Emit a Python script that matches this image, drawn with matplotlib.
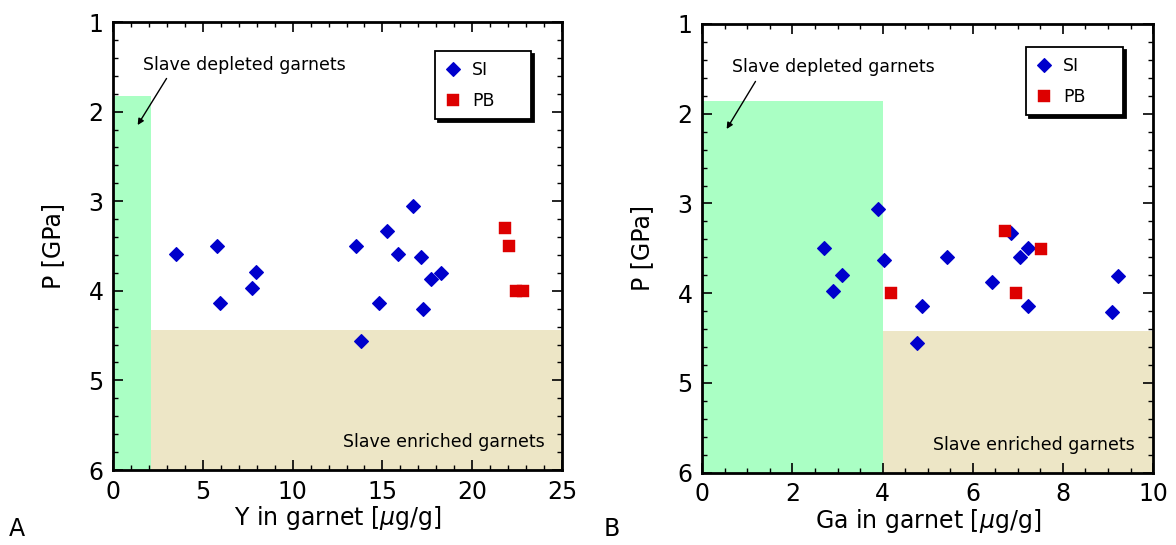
import matplotlib
matplotlib.use("Agg")
import matplotlib.pyplot as plt
from matplotlib.patches import Rectangle
from matplotlib.ticker import MultipleLocator

# Panel A: Y in garnet
y_si = [3.51, 5.79, 5.94, 7.96, 7.74, 13.51, 13.79, 14.83, 15.24, 15.87, 16.69, 17.17, 17.24, 17.72, 18.28]
y_si_p = [3.59, 3.50, 4.14, 3.79, 3.97, 3.50, 4.56, 4.14, 3.33, 3.59, 3.05, 3.62, 4.20, 3.87, 3.80]
y_pb = [21.83, 22.05, 22.44, 22.84]
y_pb_p = [3.30, 3.50, 4.00, 4.00]

# Panel B: Ga in garnet
ga_si = [2.69, 3.90, 3.09, 2.89, 4.04, 4.88, 4.77, 5.43, 6.43, 6.85, 7.04, 7.23, 7.23, 9.09, 9.22]
ga_si_p = [3.50, 3.06, 3.80, 3.98, 3.63, 4.14, 4.56, 3.60, 3.88, 3.33, 3.60, 3.50, 4.14, 4.21, 3.81]
ga_pb = [6.71, 7.52, 4.19, 6.96]
ga_pb_p = [3.31, 3.51, 4.00, 4.00]

GREEN = "#AAFFC4"
TAN = "#EDE6C6"
BLUE = "#0000CC"
RED = "#DD0000"

plt.rcParams['font.family'] = ['DejaVu Sans']
plt.rcParams['mathtext.fontset'] = 'dejavusans'

fig = plt.figure(figsize=(11.76, 5.45), dpi=100)
ax1 = fig.add_axes([0.0963, 0.1376, 0.3815, 0.822])
ax2 = fig.add_axes([0.5972, 0.1327, 0.3833, 0.8233])


def setup_panel(ax, xmax, xmajor, xminor, green_x, green_top, tan_top, xlabel,
                si_x, si_p, pb_x, pb_p, txt_x, arrow_start, arrow_end, enr_x, leg_anchor):
    ax.set_xlim(0, xmax)
    ax.set_ylim(6, 1)

    # shaded regions
    ax.add_patch(Rectangle((0, green_top), green_x, 6 - green_top, facecolor=GREEN,
                           edgecolor="none", zorder=0))
    ax.add_patch(Rectangle((green_x, tan_top), xmax - green_x, 6 - tan_top, facecolor=TAN,
                           edgecolor="none", zorder=0))

    ax.plot(si_x, si_p, linestyle="none", marker="D", ms=6.8, color=BLUE,
            mec=BLUE, mew=0.8, label="SI", zorder=3)
    ax.plot(pb_x, pb_p, linestyle="none", marker="s", ms=8.6, color=RED,
            mec=RED, mew=0.3, label="PB", zorder=4)

    ax.text(txt_x, 1.48, "Slave depleted garnets", fontsize=12.5, ha="left", va="center")
    ax.annotate("", xy=arrow_end, xytext=arrow_start,
                arrowprops=dict(arrowstyle="-|>", lw=1.0, color="black",
                                mutation_scale=9, shrinkA=0, shrinkB=0))
    ax.text(enr_x, 5.69, "Slave enriched garnets", fontsize=12.5, ha="right", va="center")

    ax.xaxis.set_major_locator(MultipleLocator(xmajor))
    ax.xaxis.set_minor_locator(MultipleLocator(xminor))
    ax.yaxis.set_major_locator(MultipleLocator(1))
    ax.yaxis.set_minor_locator(MultipleLocator(0.2))
    ax.tick_params(which="both", direction="in", top=True, right=True, labelsize=17)
    ax.tick_params(which="major", length=7, width=1.2, pad=7)
    ax.tick_params(which="minor", length=3.5, width=1.0)
    for sp in ax.spines.values():
        sp.set_linewidth(2)

    ax.set_xlabel(xlabel, fontsize=17, labelpad=0.5)
    ax.set_ylabel("P [GPa]", fontsize=17, labelpad=17)

    leg = ax.legend(loc="upper left", bbox_to_anchor=leg_anchor, mode="expand",
                    borderaxespad=0, fontsize=12.5, handlelength=1.0, handletextpad=0.6,
                    borderpad=0.55, labelspacing=0.75, fancybox=False, framealpha=1,
                    edgecolor="black", shadow={"color": "black", "alpha": 1})
    leg.get_frame().set_linewidth(1.3)


setup_panel(ax1, 25, 5, 1, 2.1, 1.83, 4.44, r"Y in garnet [$\mu$g/g]",
            y_si, y_si_p, y_pb, y_pb_p, 1.67, (2.97, 1.63), (1.36, 2.15), 24.07,
            (0.717, 0.935, 0.214, 0))
setup_panel(ax2, 10, 2, 0.5, 4.0, 1.86, 4.42, r"Ga in garnet [$\mu$g/g]",
            ga_si, ga_si_p, ga_pb, ga_pb_p, 0.665, (1.18, 1.64), (0.54, 2.17), 9.6,
            (0.718, 0.948, 0.215, 0))

fig.text(0.0077, 0.029, "A", fontsize=17, ha="left", va="center")
fig.text(0.513, 0.029, "B", fontsize=17, ha="left", va="center")

fig.savefig("out.png", dpi=100)
